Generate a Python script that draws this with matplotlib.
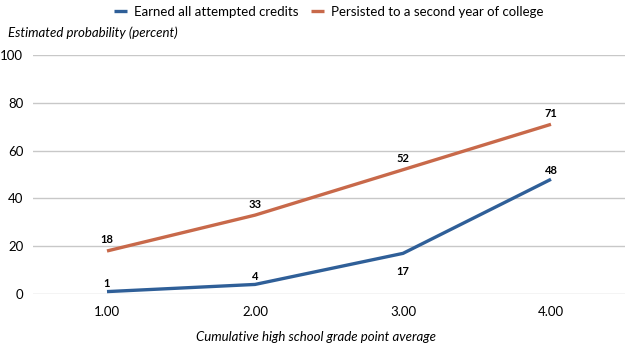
import matplotlib
matplotlib.use("Agg")
import matplotlib.pyplot as plt

# data
gpa = [1.0, 2.0, 3.0, 4.0]
gpa_labels = ["1.00", "2.00", "3.00", "4.00"]
earned_credits = [1, 4, 17, 48]
persisted = [18, 33, 52, 71]
yticks = [0, 20, 40, 60, 80, 100]

blue = "#2f5f98"
orange = "#c8694a"

plt.rcParams['font.family'] = ['Lato', 'DejaVu Sans']

fig = plt.figure(figsize=(6.32, 3.51), dpi=100)
ax = fig.add_axes([33 / 632, 1 - 294 / 351, 592 / 632, 239 / 351])

ax.plot(gpa, earned_credits, color=blue, lw=2.4, solid_capstyle="butt",
        label="Earned all attempted credits")
ax.plot(gpa, persisted, color=orange, lw=2.4, solid_capstyle="butt",
        label="Persisted to a second year of college")

for x, v in zip(gpa, earned_credits):
    below = v == 17
    ax.annotate(str(v), (x, v), xytext=(0, -13 if below else 6), textcoords="offset points",
                ha="center", va="center", fontsize=8, fontweight="bold")
for x, v in zip(gpa, persisted):
    ax.annotate(str(v), (x, v), xytext=(0, 8), textcoords="offset points",
                ha="center", va="center", fontsize=8, fontweight="bold")

ax.set_xlim(0.5, 4.5)
ax.set_ylim(0, 100)
ax.set_xticks(gpa)
ax.set_xticklabels(gpa_labels, fontsize=9.5)
ax.set_yticks(yticks)
ax.set_yticklabels([str(t) for t in yticks], fontsize=9.5)
ax.tick_params(length=0)
ax.tick_params(axis="x", pad=9)
ax.tick_params(axis="y", pad=7)
ax.grid(axis="y", color="#c8c8c8", lw=1)
ax.set_axisbelow(True)
for s in ax.spines.values():
    s.set_visible(False)

fig.text(8 / 632, 1 - 33 / 351, "Estimated probability (percent)", fontsize=9.5,
         style="italic", ha="left", va="center")
fig.text(316 / 632, 1 - 337 / 351, "Cumulative high school grade point average",
         fontsize=9.5, style="italic", ha="center", va="center")

fig.legend(loc="center", bbox_to_anchor=(0.52, 1 - 12 / 351), ncol=2, frameon=False,
           fontsize=9.5, handlelength=1.0, handletextpad=0.5, columnspacing=1.0)

fig.savefig("out.png", dpi=100)
